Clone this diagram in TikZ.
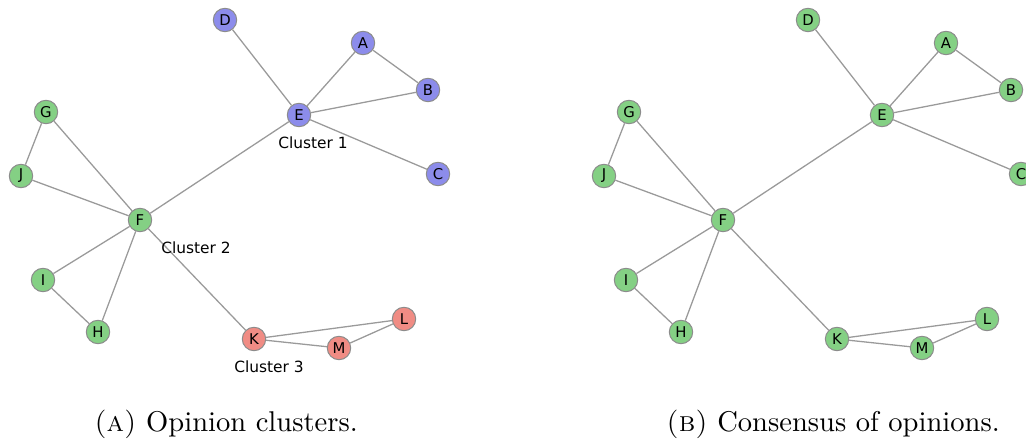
\documentclass[tikz,border=0pt]{standalone}
\usepackage{fontspec}
\newfontfamily\dejavu{DejaVu Sans}
\usetikzlibrary{backgrounds}
\definecolor{OBlue}{HTML}{8C8CEB}
\definecolor{OGreen}{HTML}{84D084}
\definecolor{ORed}{HTML}{F08C84}
\definecolor{EGray}{HTML}{9A9A9A}
\tikzset{
    blob/.style={circle,draw=black!45,line width=.35pt,minimum size=8.2pt,inner sep=0pt,
        font=\dejavu\fontsize{5.2}{6}\selectfont},
    edge/.style={draw=EGray,line width=.45pt},
    tag/.style={font=\dejavu\fontsize{5.4}{6}\selectfont},
}

\begin{document}
\begin{tikzpicture}[x=.35pt,y=-.35pt]
        \useasboundingbox (0,0) rectangle (1026,442);
        % (a) opinion clusters
        \foreach \n/\x/\y/\c in {A/363/43/OBlue,B/428/90/OBlue,C/438/174/OBlue,D/225/20/OBlue,E/299/115/OBlue,
                                 F/140/220/OGreen,G/46/112/OGreen,H/98/332/OGreen,I/43/280/OGreen,J/21/176/OGreen,
                                 K/254/339/ORed,L/404/319/ORed,M/339/348/ORed}
        {
            \node[blob,fill=\c] (a\n) at (\x,\y) {\n};
        }
        % (b) consensus, shifted copy
        \foreach \n/\x/\y in {A/363/43,B/428/90,C/438/174,D/225/20,E/299/115,F/140/220,G/46/112,
                              H/98/332,I/43/280,J/21/176,K/254/339,L/404/319,M/339/348}
        {
            \node[blob,fill=OGreen] (b\n) at (\x+583,\y) {\n};
        }
        \begin{scope}[on background layer]
        \foreach \p in {a,b}
        {
            \foreach \s/\t in {D/E,A/E,A/B,B/E,E/C,E/F,G/F,G/J,J/F,F/I,F/H,I/H,F/K,K/L,K/M,M/L}
            {
                \draw[edge] (\p\s) -- (\p\t);
            }
        }
        \end{scope}
        \node[tag] (clusterone) at (313,143) {Cluster 1};
        \node[tag] (clustertwo) at (196,248) {Cluster 2};
        \node[tag] (clusterthree) at (269,367) {Cluster 3};

        \node (capa) at (226,424) {\textsc{(a)} Opinion clusters.};
        \node (capb) at (833,424) {\textsc{(b)} Consensus of opinions.};
        \end{tikzpicture}
\end{document}
